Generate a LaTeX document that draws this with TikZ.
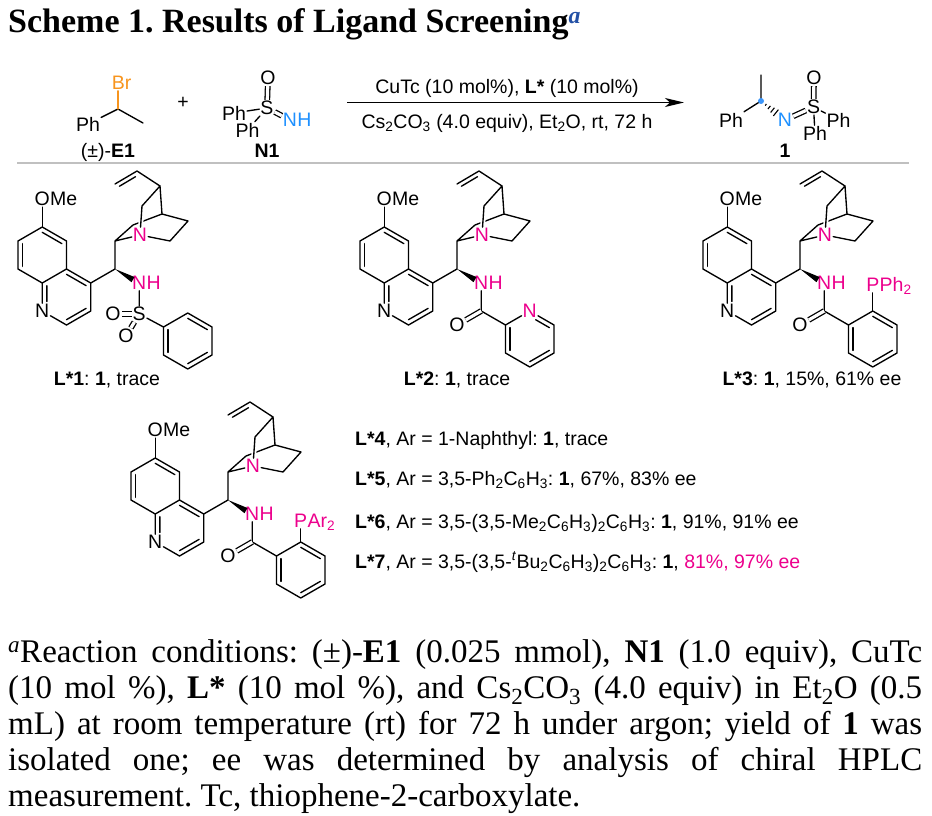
\documentclass[tikz,border=0pt]{standalone}
\usepackage{fontspec}
\setmainfont{Liberation Serif}
\setsansfont{Liberation Sans}
\usetikzlibrary{calc,positioning,arrows.meta}
\frenchspacing

\definecolor{pinkN}{RGB}{236,0,140}
\definecolor{blueN}{RGB}{30,144,255}
\definecolor{dotblue}{RGB}{60,150,250}
\definecolor{orangeBr}{RGB}{247,148,29}
\definecolor{sepgray}{RGB}{192,192,192}
\definecolor{noteblue}{RGB}{35,80,165}

\newcommand\chemfont{\sffamily\fontsize{19.5}{22}\selectfont}
\newcommand\titlefont{\rmfamily\bfseries\fontsize{34}{40}\selectfont}
\newcommand\notefont{\rmfamily\fontsize{33}{36}\selectfont}

% inner line of a ring double bond: two ends, ring centre
\newcommand\ringdb[3]{\draw[bond] ($(#1)!.19!(#3)$) -- ($(#2)!.19!(#3)$);}
% same, shortened at the labelled atom #2
\newcommand\ringdbN[3]{\draw[bond] ($(#1)!.19!(#3)$) -- ($(#1)!.7!(#2)!.19!(#3)$);}

% quinoline, C9 and quinuclidine, C9 at the origin
\newcommand\cinchonacore{%
  \coordinate (c9) at (0,0);
  \coordinate (q4) at (-24.25,14);
  \coordinate (q4a) at (-48.5,0);
  \coordinate (q3) at (-24.25,42);
  \coordinate (q2) at (-48.5,56);
  \node[atom] (q1) at (-72.75,42) {N};
  \coordinate (q8a) at (-72.75,14);
  \coordinate (q5) at (-48.5,-28);
  \coordinate (q6) at (-72.75,-42);
  \coordinate (q7) at (-97,-28);
  \coordinate (q8) at (-97,0);
  \coordinate (pyc) at (-48.5,28);
  \coordinate (bzc) at (-72.75,-14);
  \node[atom] (ome) at (-72.75,-70) {O};
  \node[lbl, base right=-1pt of ome] (omeMe) {Me};
  \coordinate (k8) at (0,-28);
  \node[atom, text=pinkN] (k1) at (25,-34) {N};
  \coordinate (k7) at (18,-44);
  \coordinate (k4) at (47,-55);
  \coordinate (k5) at (73,-48);
  \coordinate (k6) at (55,-28);
  \coordinate (k2) at (27,-63);
  \coordinate (k3) at (45,-83);
  \coordinate (v1) at (22,-98);
  \coordinate (v2) at (0,-85);
  \node[atom, text=pinkN] (nh) at (24.25,14) {N};
  \node[lbl, text=pinkN, base right=-1pt of nh] (nhH) {H};
  \draw[bond] (q4a) -- (q5) -- (q6) -- (q7) -- (q8) -- (q8a) -- (q4a) -- (q4) -- (q3) -- (q2);
  \draw[bond] (q2) -- (q1) -- (q8a);
  \draw[bond] (q6) -- (ome);
  \ringdb{q5}{q6}{bzc}
  \ringdb{q7}{q8}{bzc}
  \ringdb{q4a}{q4}{pyc}
  \ringdb{q3}{q2}{pyc}
  \ringdbN{q8a}{q1}{pyc}
  \draw[bond] (q4) -- (c9) -- (k8) -- (k7) -- (k4) -- (k5) -- (k6) -- (k1) -- (k8);
  \draw[bond] (k4) -- (k3) -- (k2);
  \draw[bond, preaction={draw, white, line width=5pt, shorten <=7pt}] (k2) -- (k1);
  \draw[bond] (k3) -- (v1) -- (v2);
  \draw[bond] (4.5,-82.8) -- (20.5,-92.3);
  \fill (c9) -- (16.5,13.2) -- (19.5,8) -- cycle;
}

% amide and aryl ring on the NH
\newcommand\amidering[2]{%
  \coordinate (am) at (24.25,42);
  \node[atom] (ao) at (0,56) {O};
  \coordinate (r1) at (48.5,56);
  \node[#1] (r2) at (72.75,42) {#2};
  \coordinate (r3) at (97,56);
  \coordinate (r4) at (97,84);
  \coordinate (r5) at (72.75,98);
  \coordinate (r6) at (48.5,84);
  \coordinate (rc) at (72.75,70);
  \draw[bond] (nh) -- (am) -- (r1) -- (r2) -- (r3) -- (r4) -- (r5) -- (r6) -- (r1);
  \draw[dbl] (am) -- (ao);
  \ringdb{r1}{r6}{rc}
  \ringdb{r4}{r5}{rc}
}

\begin{document}
\begin{tikzpicture}[
                x=1pt, y=-1pt,
                bond/.style={line width=1.35pt, line cap=round, line join=round},
                dbl/.style={line width=1.3pt, double, double distance=3.2pt},
                atom/.style={inner sep=1pt, font=\chemfont},
                lbl/.style={inner sep=0pt, font=\chemfont},
                arrow/.style={line width=1.6pt, -{Stealth[length=19pt, width=9pt, inset=5pt]}}
            ]
    \useasboundingbox (0,0) rectangle (932,816);

    \node[anchor=base west, inner sep=0pt, font=\titlefont] (title) at (8,33)
        {Scheme 1. Results of Ligand Screening\textsuperscript{\textcolor{noteblue}{\textit{a}}}};

    % (+/-)-E1
    \coordinate (e1c) at (118,109);
    \coordinate (e1me) at (143,123);
    \node[atom, text=orangeBr] (e1br) at (121.5,83) {Br};
    \node[atom] (e1ph) at (88,124) {Ph};
    \draw[bond] (e1ph) -- (e1c) -- (e1me);
    \draw[bond, orangeBr] (e1c) -- (e1c |- e1br.south);
    \node[lbl, anchor=base] (e1lab) at (108,157) {(±)-\textbf{E1}};

    \node[lbl] (plus) at (183,103) {+};

    % N1
    \node[atom] (n1s) at (267,108) {S};
    \node[atom] (n1o) at (268,78) {O};
    \node[atom] (n1pa) at (234,113) {Ph};
    \node[atom] (n1pb) at (247.5,130) {Ph};
    \node[atom, text=blueN] (n1n) at (290,120) {N};
    \node[lbl, text=blueN, base right=-1pt of n1n] (n1h) {H};
    \draw[bond] (n1pa) -- (n1s) -- (n1pb);
    \draw[dbl] (n1s) -- (n1o);
    \draw[dbl] (n1s) -- (n1n);
    \node[lbl, anchor=base] (n1lab) at (267,157) {\textbf{N1}};

    % arrow
    \coordinate (arrS) at (347,102.5);
    \coordinate (arrE) at (684,102.5);
    \draw[arrow] (arrS) -- (arrE);
    \node[lbl, anchor=base] (condA) at (507,93.5) {CuTc (10 mol\%), \textbf{L*} (10 mol\%)};
    \node[lbl, anchor=base] (condB) at (507,128.5)
        {Cs\textsubscript{2}CO\textsubscript{3} (4.0 equiv), Et\textsubscript{2}O, rt, 72 h};

    % product 1
    \coordinate (pc) at (761,101);
    \coordinate (pme) at (761,75);
    \node[atom] (pph) at (731,120) {Ph};
    \node[atom, text=blueN] (pn) at (785,120) {N};
    \node[atom] (ps) at (813.5,107) {S};
    \node[atom] (po) at (814,78) {O};
    \node[atom] (ppa) at (838.5,120) {Ph};
    \node[atom] (ppb) at (815,133.5) {Ph};
    \draw[bond] (pme) -- (pc) -- (pph);
    \draw[bond] (ps) -- (ppa);
    \draw[bond] (ps) -- (ppb);
    \draw[dbl] (pn) -- (ps);
    \draw[dbl] (ps) -- (po);
    \foreach \t/\w in {.2/1,.34/2,.48/3,.62/4}
        \draw[line width=1.1pt] ($(pc)!\t!(pn)!\w pt!90:(pn)$) -- ($(pc)!\t!(pn)!\w pt!-90:(pn)$);
    \fill[dotblue] (pc) circle (3pt);
    \node[lbl, anchor=base] (plab) at (785,157) {\textbf{1}};

    \coordinate (sepL) at (17,163);
    \coordinate (sepR) at (909,163);
    \draw[sepgray, line width=1.6pt] (sepL) -- (sepR);

    % L*1
    \begin{scope}[shift={(115,269)}]
        \cinchonacore
        \node[atom] (ss) at (24.25,45) {S};
        \node[atom] (so1) at (-2,45) {O};
        \node[atom] (so2) at (11,67) {O};
        \coordinate (b1) at (48.5,58);
        \coordinate (b2) at (72.75,44);
        \coordinate (b3) at (97,58);
        \coordinate (b4) at (97,86);
        \coordinate (b5) at (72.75,100);
        \coordinate (b6) at (48.5,86);
        \coordinate (bc) at (72.75,72);
        \draw[bond] (nh) -- (ss) -- (b1) -- (b2) -- (b3) -- (b4) -- (b5) -- (b6) -- (b1);
        \draw[dbl] (ss) -- (so1);
        \draw[dbl] (ss) -- (so2);
        \ringdb{b1}{b6}{bc}
        \ringdb{b2}{b3}{bc}
        \ringdb{b4}{b5}{bc}
    \end{scope}
    \node[lbl, anchor=base] (lab1) at (107,385) {\textbf{L*1}: \textbf{1}, trace};

    % L*2
    \begin{scope}[shift={(457,269)}]
        \cinchonacore
        \amidering{atom, text=pinkN}{N}
        \ringdbN{r3}{r2}{rc}
    \end{scope}
    \node[lbl, anchor=base] (lab2) at (457,385) {\textbf{L*2}: \textbf{1}, trace};

    % L*3
    \begin{scope}[shift={(800,269)}]
        \cinchonacore
        \amidering{coordinate}{}
        \ringdb{r2}{r3}{rc}
        \node[atom, text=pinkN] (pp) at (72.75,16) {P};
        \node[lbl, text=pinkN, base right=-1pt of pp] (ppPh) {Ph\textsubscript{2}};
        \draw[bond] (r2) -- (pp);
    \end{scope}
    \node[lbl, anchor=base] (lab3) at (812,385) {\textbf{L*3}: \textbf{1}, 15\%, 61\% ee};

    % L*4 - L*7
    \begin{scope}[shift={(228,500)}]
        \cinchonacore
        \amidering{coordinate}{}
        \ringdb{r2}{r3}{rc}
        \node[atom, text=pinkN] (pp) at (72.75,21) {P};
        \node[lbl, text=pinkN, base right=-1pt of pp] (ppAr) {Ar\textsubscript{2}};
        \draw[bond] (r2) -- (pp);
    \end{scope}
    \node[lbl, anchor=base west] (lab4) at (355,445) {\textbf{L*4}, Ar = 1-Naphthyl: \textbf{1}, trace};
    \node[lbl, anchor=base west] (lab5) at (355,485)
        {\textbf{L*5}, Ar = 3,5-Ph\textsubscript{2}C\textsubscript{6}H\textsubscript{3}: \textbf{1}, 67\%, 83\% ee};
    \node[lbl, anchor=base west] (lab6) at (355,528)
        {\textbf{L*6}, Ar = 3,5-(3,5-Me\textsubscript{2}C\textsubscript{6}H\textsubscript{3})\textsubscript{2}C\textsubscript{6}H\textsubscript{3}: \textbf{1}, 91\%, 91\% ee};
    \node[lbl, anchor=base west] (lab7) at (355,568)
        {\textbf{L*7}, Ar = 3,5-(3,5-\textsuperscript{\textit{t}}Bu\textsubscript{2}C\textsubscript{6}H\textsubscript{3})\textsubscript{2}C\textsubscript{6}H\textsubscript{3}: \textbf{1}, \textcolor{pinkN}{81\%, 97\% ee}};

    \node[anchor=base west, inner sep=0pt, text width=914pt, align=justify, font=\notefont] (note) at (8,662)
        {\tolerance=10000 \hbadness=10000
         \textsuperscript{\textit{a}}Reaction conditions: (±)-\textbf{E1} (0.025 mmol), \textbf{N1} (1.0 equiv), CuTc\linebreak
         (10 mol \%), \textbf{L*} (10 mol \%), and Cs\textsubscript{2}CO\textsubscript{3} (4.0 equiv) in Et\textsubscript{2}O (0.5\linebreak
         mL) at room temperature (rt) for 72 h under argon; yield of \textbf{1} was\linebreak
         isolated one; ee was determined by analysis of chiral HPLC\linebreak
         measurement. Tc, thiophene-2-carboxylate.};
\end{tikzpicture}
\end{document}
